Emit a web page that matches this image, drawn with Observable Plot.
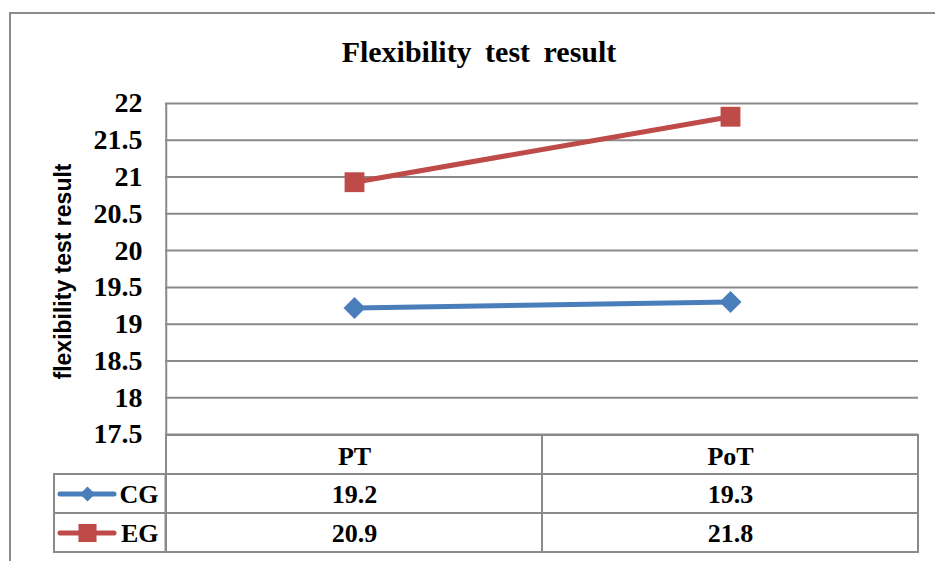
<!DOCTYPE html>
<html><head><meta charset="utf-8">
<script src="https://cdn.jsdelivr.net/npm/d3@7"></script>
<script src="https://cdn.jsdelivr.net/npm/@observablehq/plot@0.6"></script>
<style>
html,body{margin:0;padding:0;background:#fff;overflow:hidden;}
#wrap{position:relative;width:935px;height:561px;overflow:hidden;background:#fff;}
#border{position:absolute;left:9px;top:12px;width:1000px;height:1000px;border:2px solid #8c8c8c;box-sizing:border-box;}
#title{position:absolute;left:0;width:958px;top:37px;text-align:center;font:bold 30px "Liberation Serif","Times New Roman",serif;word-spacing:6px;line-height:30px;color:#000;}
#chart{position:absolute;left:0;top:0;}
#table{position:absolute;left:0;top:434px;}
</style></head><body>
<div id="wrap"><div id="border"></div><div id="chart"></div><div id="table"></div><div id="title"></div></div>
<script>
// ---- data ----
const titleText = "Flexibility test result";
const yLabel = "flexibility test result";
const categories = ["PT", "PoT"];
const seriesNames = ["CG", "EG"];
const cgValues = [19.22, 19.30];
const egValues = [20.93, 21.82];
const yTicks = [17.5, 18, 18.5, 19, 19.5, 20, 20.5, 21, 21.5, 22];
const colors = ["#4a7ebb", "#be4b48"];
const symbols = ["diamond2", "square"];

document.getElementById("title").textContent = titleText;

const valuesBySeries = {CG: cgValues, EG: egValues};
const rows = seriesNames.flatMap(s => categories.map((c, i) => ({series: s, cat: c, value: valuesBySeries[s][i]})));
const fmt = d3.format(".1f");

// ---- layout ----
const W = 935, ML = 165, MR = 17, KEYW = 112;
const bw = (W - ML - MR) / categories.length;
const gridColor = "#8a8a8a";
const serif = "'Liberation Serif', 'Times New Roman', serif";
const sans = "'Liberation Sans', Arial, sans-serif";
const svgStyle = {background: "none", overflow: "visible", fontFamily: serif, fontWeight: "bold", color: "#000"};

const chart = Plot.plot({
  width: W, height: 434,
  marginTop: 103, marginBottom: 0, marginLeft: ML, marginRight: MR,
  style: svgStyle,
  x: {type: "band", domain: categories, padding: 0, axis: null},
  y: {domain: [17.5, 22]},
  color: {domain: seriesNames, range: colors},
  symbol: {domain: seriesNames, range: symbols},
  marks: [
    Plot.gridY(yTicks, {stroke: gridColor, strokeOpacity: 1, strokeWidth: 2}),
    Plot.ruleX([categories[0]], {dx: -bw / 2, stroke: gridColor, strokeWidth: 2}),
    Plot.axisY(yTicks, {tickSize: 0, tickPadding: 23, fontSize: 28, fontFamily: serif, fontWeight: "bold", label: null, tickFormat: d => String(d), fill: "#000"}),
    Plot.text([yLabel], {frameAnchor: "left", rotate: -90, dx: -102, dy: 2.5, textAnchor: "middle", fontSize: 23, fontWeight: "bold", fontFamily: sans, fill: "#000"}),
    Plot.line(rows, {x: "cat", y: "value", z: "series", stroke: "series", strokeWidth: 5}),
    Plot.dot(rows.filter(d => d.series === "CG"), {x: "cat", y: "value", fill: "series", symbol: "series", r: 9.9, stroke: null}),
    Plot.dot(rows.filter(d => d.series === "EG"), {x: "cat", y: "value", fill: "series", symbol: "series", r: 11.2, stroke: null})
  ]
});
document.getElementById("chart").appendChild(chart);

const tableCells = [
  ...categories.map(c => ({cat: c, row: "head"})),
  ...rows.map(d => ({cat: d.cat, row: d.series}))
];

const table = Plot.plot({
  width: W, height: 127,
  marginTop: 0, marginBottom: 8, marginLeft: ML, marginRight: MR,
  style: svgStyle,
  x: {type: "band", domain: categories, padding: 0, axis: null},
  y: {type: "band", domain: ["head", ...seriesNames], padding: 0, axis: null},
  color: {domain: seriesNames, range: colors},
  symbol: {domain: seriesNames, range: symbols},
  marks: [
    Plot.cell(tableCells, {x: "cat", y: "row", fill: "none", stroke: gridColor, strokeWidth: 2}),
    Plot.cell(seriesNames, {x: () => categories[0], y: d => d, insetLeft: -KEYW, insetRight: bw, fill: "none", stroke: gridColor, strokeWidth: 2}),
    Plot.text(categories, {x: d => d, y: () => "head", text: d => d, dy: 2, fontSize: 26, fontWeight: "bold", fontFamily: serif, fill: "#000"}),
    Plot.text(rows, {x: "cat", y: "series", text: d => fmt(d.value), dy: 1, fontSize: 26, fontWeight: "bold", fontFamily: serif, fill: "#000"}),
    Plot.text(seriesNames, {frameAnchor: "left", y: d => d, text: d => d, dx: -7, dy: 1, textAnchor: "end", fontSize: 26, fontWeight: "bold", fontFamily: serif, fill: "#000"}),
    Plot.ruleY(seriesNames, {y: d => d, stroke: d => d, strokeWidth: 5, strokeLinecap: "round", insetLeft: -(ML - 60), insetRight: (W - MR) - 114}),
    Plot.dot(["CG"], {frameAnchor: "left", y: d => d, dx: -78, fill: d => d, symbol: d => d, r: 6.8, stroke: null}),
    Plot.dot(["EG"], {frameAnchor: "left", y: d => d, dx: -78, fill: d => d, symbol: d => d, r: 10.2, stroke: null})
  ]
});
document.getElementById("table").appendChild(table);
</script>
</body></html>
